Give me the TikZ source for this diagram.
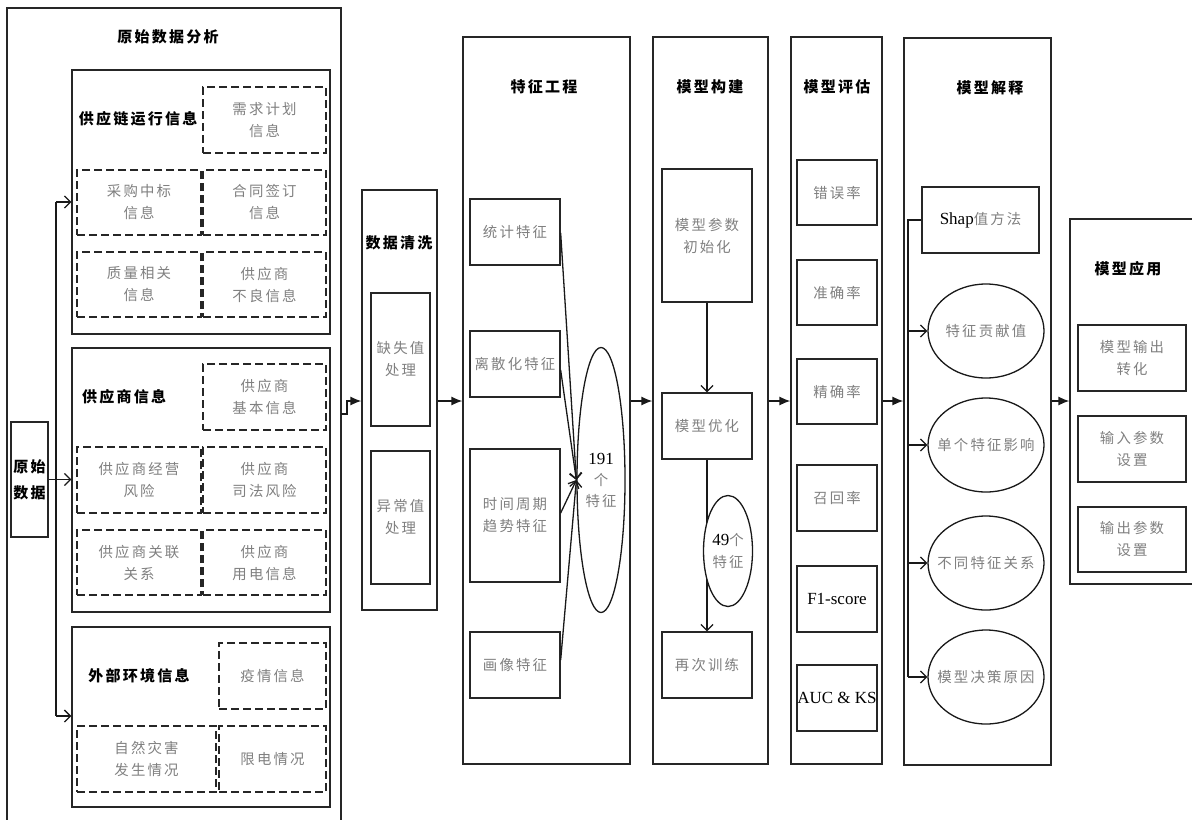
\documentclass[tikz,border=0pt]{standalone}
\usepackage{fontspec}
\setmainfont{Liberation Serif}
\newfontfamily\cjk[LetterSpace=15]{Noto Sans CJK SC}
\usetikzlibrary{arrows.meta,shapes.geometric,fit}
\tikzset{
  box/.style={draw=black!85, line width=0.65pt, inner sep=0pt, fill=white},
  dbox/.style={box, dash pattern=on 4pt off 2pt},
  ttl/.style={font=\cjk\bfseries\fontsize{7.5}{10}\selectfont, text=black, inner sep=0pt},
  txt/.style={font=\cjk\fontsize{7.2}{11}\selectfont, text=black!50, align=center, inner sep=0pt},
  lat/.style={font=\rmfamily\fontsize{8.5}{10}\selectfont, text=black, inner sep=0pt},
  ell/.style={draw=black!90, line width=0.65pt, ellipse, inner sep=0pt, fill=white},
  conn/.style={draw=black!90, line width=0.65pt},
  oa/.style={conn, -{Straight Barb[length=3pt,width=6pt]}},
  fa/.style={conn, -{Latex[length=5.5pt,width=4.5pt]}},
}
\begin{document}
\begin{tikzpicture}[x=0.5pt,y=-0.5pt]
\useasboundingbox (0,0) rectangle (1192,819);
\fill[white] (0,0) rectangle (1192,819);

% ---------- raw data analysis ----------
\node[box, fit={(7,8) (341,830)}] (raw) {};
\node[ttl] (rawt) at (168,37) {原始数据分析};

\node[box, fit={(72,70) (330,334)}] (bA) {};
\node[ttl] (bAt) at (138,119) {供应链运行信息};
\node[dbox, fit={(203,87) (326,153)}] (a1) {};
\node[txt] (a1t) at (a1) {需求计划\\信息};
\node[dbox, fit={(77,170) (201,235)}] (a2) {};
\node[txt] (a2t) at (a2) {采购中标\\信息};
\node[dbox, fit={(203,170) (326,235)}] (a3) {};
\node[txt] (a3t) at (a3) {合同签订\\信息};
\node[dbox, fit={(77,252) (201,317)}] (a4) {};
\node[txt] (a4t) at (a4) {质量相关\\信息};
\node[dbox, fit={(203,252) (326,317)}] (a5) {};
\node[txt] (a5t) at (a5) {供应商\\不良信息};

\node[box, fit={(72,348) (330,612)}] (bB) {};
\node[ttl] (bBt) at (124,397) {供应商信息};
\node[dbox, fit={(203,364) (326,430)}] (b1) {};
\node[txt] (b1t) at (b1) {供应商\\基本信息};
\node[dbox, fit={(77,447) (201,513)}] (b2) {};
\node[txt] (b2t) at (b2) {供应商经营\\风险};
\node[dbox, fit={(203,447) (326,513)}] (b3) {};
\node[txt] (b3t) at (b3) {供应商\\司法风险};
\node[dbox, fit={(77,530) (201,595)}] (b4) {};
\node[txt] (b4t) at (b4) {供应商关联\\关系};
\node[dbox, fit={(203,530) (326,595)}] (b5) {};
\node[txt] (b5t) at (b5) {供应商\\用电信息};

\node[box, fit={(72,627) (330,807)}] (bC) {};
\node[ttl] (bCt) at (139,676) {外部环境信息};
\node[dbox, fit={(219,643) (326,709)}] (c1) {};
\node[txt] (c1t) at (c1) {疫情信息};
\node[dbox, fit={(77,726) (216,792)}] (c2) {};
\node[txt] (c2t) at (c2) {自然灾害\\发生情况};
\node[dbox, fit={(219,726) (326,792)}] (c3) {};
\node[txt] (c3t) at (c3) {限电情况};

\node[box, fit={(11,422) (48,537)}] (src) {};
\node[font=\cjk\bfseries\fontsize{7.5}{13}\selectfont, align=center, inner sep=0pt] (srct) at (src) {原始\\数据};

\coordinate (jA) at (56,202);
\coordinate (jC) at (56,716);
\draw[oa] (src.east) -- (src.east -| bB.west);
\draw[conn] (jA) -- (jC);
\draw[oa] (jA) -- (jA -| bA.west);
\draw[oa] (jC) -- (jC -| bC.west);

% ---------- data cleaning ----------
\node[box, fit={(362,190) (437,610)}] (cl) {};
\node[ttl] (clt) at (399,243) {数据清洗};
\node[box, fit={(371,293) (430,426)}] (cl1) {};
\node[txt] (cl1t) at (cl1) {缺失值\\处理};
\node[box, fit={(371,451) (430,584)}] (cl2) {};
\node[txt] (cl2t) at (cl2) {异常值\\处理};

\coordinate (s1) at (341,414);
\coordinate (fl) at (0,401);
\draw[fa] (s1) -- ++(6,0) |- (cl.west |- fl);

% ---------- feature engineering ----------
\node[box, fit={(463,37) (630,764)}] (fe) {};
\node[ttl] (fet) at (544,87) {特征工程};
\node[box, fit={(470,199) (560,265)}] (f1) {};
\node[txt] (f1t) at (f1) {统计特征};
\node[box, fit={(470,331) (560,397)}] (f2) {};
\node[txt] (f2t) at (f2) {离散化特征};
\node[box, fit={(470,449) (560,582)}] (f3) {};
\node[txt] (f3t) at (f3) {时间周期\\趋势特征};
\node[box, fit={(470,632) (560,698)}] (f4) {};
\node[txt] (f4t) at (f4) {画像特征};
\node[ell, minimum width=24pt, minimum height=132.5pt] (e191) at (601,480) {};
\node[txt, font=\cjk\fontsize{7.2}{10.5}\selectfont] (e191t) at (601,480) {{\rmfamily\fontsize{8.5}{10.5}\selectfont\color{black}191}\\个\\特征};
\draw[oa] (f1.east |- 0,233) -- (e191.west);
\draw[oa] (f2.east |- 0,370) -- (e191.west);
\draw[oa] (f3.east |- 0,513) -- (e191.west);
\draw[oa] (f4.east |- 0,660) -- (e191.west);

\draw[fa] (cl.east |- fl) -- (fe.west |- fl);

% ---------- model building ----------
\node[box, fit={(653,37) (768,764)}] (mb) {};
\node[ttl] (mbt) at (710,87) {模型构建};
\node[box, fit={(662,169) (752,302)}] (m1) {};
\node[txt] (m1t) at (m1) {模型参数\\初始化};
\node[box, fit={(662,393) (752,459)}] (m2) {};
\node[txt] (m2t) at (m2) {模型优化};
\node[box, fit={(662,632) (752,698)}] (m3) {};
\node[txt] (m3t) at (m3) {再次训练};
\draw[oa] (m1.south -| 707,0) -- (m2.north -| 707,0);
\draw[oa] (m2.south -| 707,0) -- (m3.north -| 707,0);
\node[ell, minimum width=24.5pt, minimum height=55.5pt] (e49) at (728,551) {};
\node[txt] (e49t) at (e49) {{\rmfamily\fontsize{8.5}{10.5}\selectfont\color{black}49}个\\特征};

\draw[fa] (fe.east |- fl) -- (mb.west |- fl);

% ---------- model evaluation ----------
\node[box, fit={(791,37) (882,764)}] (me) {};
\node[ttl] (met) at (837,87) {模型评估};
\node[box, fit={(797,160) (877,225)}] (v1) {};
\node[txt] (v1t) at (v1) {错误率};
\node[box, fit={(797,260) (877,325)}] (v2) {};
\node[txt] (v2t) at (v2) {准确率};
\node[box, fit={(797,359) (877,424)}] (v3) {};
\node[txt] (v3t) at (v3) {精确率};
\node[box, fit={(797,465) (877,531)}] (v4) {};
\node[txt] (v4t) at (v4) {召回率};
\node[box, fit={(797,566) (877,632)}] (v5) {};
\node[lat] (v5t) at (v5) {F1-score};
\node[box, fit={(797,665) (877,731)}] (v6) {};
\node[lat] (v6t) at (v6) {AUC \& KS};

\draw[fa] (mb.east |- fl) -- (me.west |- fl);

% ---------- model explanation ----------
\node[box, fit={(904,38) (1051,765)}] (mx) {};
\node[ttl] (mxt) at (990,88) {模型解释};
\node[box, fit={(922,187) (1039,253)}] (shap) {};
\node[txt] (shapt) at (shap) {{\rmfamily\fontsize{8.5}{10}\selectfont\color{black}Shap}值方法};
\node[ell, minimum width=58pt, minimum height=47pt] (x1) at (986,331) {};
\node[txt] (x1t) at (x1) {特征贡献值};
\node[ell, minimum width=58pt, minimum height=47pt] (x2) at (986,445) {};
\node[txt] (x2t) at (x2) {单个特征影响};
\node[ell, minimum width=58pt, minimum height=47pt] (x3) at (986,563) {};
\node[txt] (x3t) at (x3) {不同特征关系};
\node[ell, minimum width=58pt, minimum height=47pt] (x4) at (986,677) {};
\node[txt] (x4t) at (x4) {模型决策原因};
\coordinate (bus) at (908,677);
\draw[conn] (shap.west) -| (bus);
\draw[oa] (x1.west -| bus) -- (x1.west);
\draw[oa] (x2.west -| bus) -- (x2.west);
\draw[oa] (x3.west -| bus) -- (x3.west);
\draw[oa] (bus) -- (x4.west);

\draw[fa] (me.east |- fl) -- (mx.west |- fl);

% ---------- model application ----------
\node[box, fit={(1070,219) (1210,584)}] (ma) {};
\node[ttl] (mat) at (1128,269) {模型应用};
\node[box, fit={(1078,325) (1186,391)}] (p1) {};
\node[txt] (p1t) at (p1) {模型输出\\转化};
\node[box, fit={(1078,416) (1186,482)}] (p2) {};
\node[txt] (p2t) at (p2) {输入参数\\设置};
\node[box, fit={(1078,507) (1186,572)}] (p3) {};
\node[txt] (p3t) at (p3) {输出参数\\设置};

\draw[fa] (mx.east |- fl) -- (ma.west |- fl);
\end{tikzpicture}
\end{document}
